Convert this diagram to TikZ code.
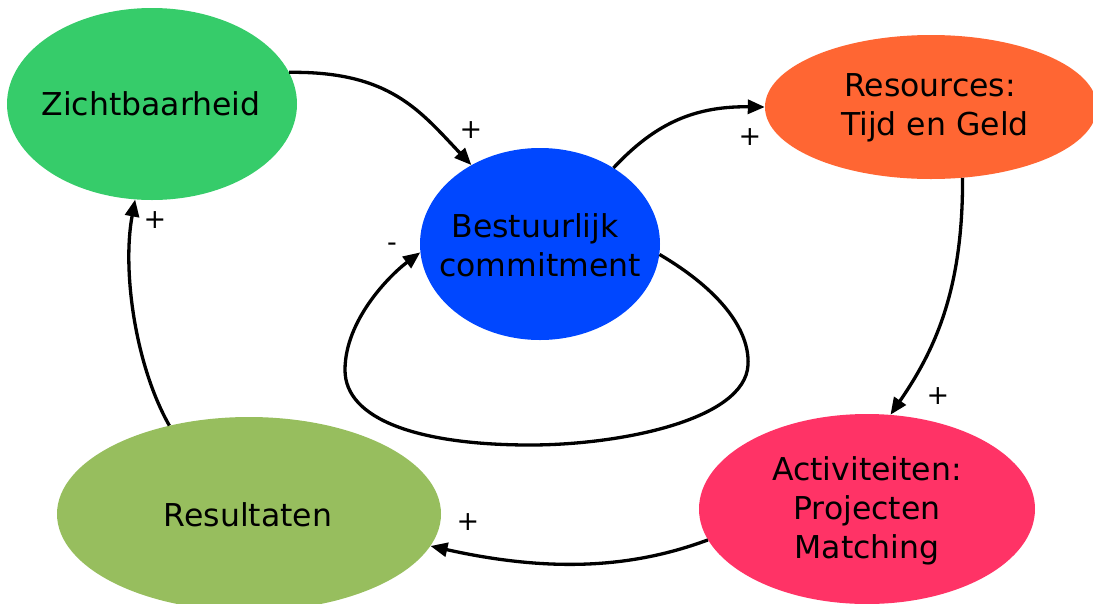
\documentclass[tikz,border=0pt]{standalone}
\usepackage{fontspec}
\setmainfont{DejaVu Sans}
\usetikzlibrary{shapes.geometric,arrows.meta}
\definecolor{cgreen}{HTML}{36CC6A}
\definecolor{cblue}{HTML}{0047FF}
\definecolor{corange}{HTML}{FF6633}
\definecolor{cpink}{HTML}{FF3366}
\definecolor{colive}{HTML}{97BE5E}
\tikzset{
  blob/.style={ellipse, draw=none, inner sep=0pt},
  lbl/.style={align=center, inner sep=0pt, font=\fontsize{31.5}{39}\selectfont},
  sign/.style={inner sep=0pt, font=\fontsize{27}{27}\selectfont},
  link/.style={line width=3.3pt, -{Triangle[length=17pt,width=14pt]}},
}
\begin{document}
\begin{tikzpicture}[x=1pt,y=-1pt]
\useasboundingbox (0,0) rectangle (1093,603);
\clip (0,0) rectangle (1093,603);
% ellipses
\node[blob, fill=cgreen, minimum width=290pt, minimum height=192pt] (z) at (152,104) {};
\node[blob, fill=cblue, minimum width=240pt, minimum height=192pt] (b) at (540,244) {};
\node[blob, fill=corange, minimum width=332pt, minimum height=144pt] (r) at (931,107) {};
\node[blob, fill=cpink, minimum width=336pt, minimum height=190pt] (a) at (867,509) {};
\node[blob, fill=colive, minimum width=384pt, minimum height=194pt] (s) at (249,514) {};
% texts
\node[lbl] (zt) at (151,104) {Zichtbaarheid};
\node[lbl] (bt) at (540,245) {Bestuurlijk\hspace{10pt} \\ commitment};
\node[lbl] (rt) at (930,108) {Resources:\\ \hspace{10pt}Tijd en Geld};
\node[lbl] (at) at (867,511) {Activiteiten:\\Projecten\\Matching};
\node[lbl] (st) at (248,515) {Resultaten};
% connectors
\draw[link] (z.13) .. controls (390,71) and (420,111) .. (b.131);
\draw[link] (b.46) .. controls (652,127) and (690,106) .. (r.west);
\draw[link] (r.-66) .. controls (963,290) and (935,350) .. (a.76);
\draw[link] (a.191) .. controls (640,565) and (560,575) .. (s.350);
\draw[link] (s.132) .. controls (135,365) and (122,270) .. (z.260);
\draw[link] (b.355) .. controls (720,290) and (750,330) .. (748,365)
   .. controls (745,420) and (620,445) .. (530,445)
   .. controls (420,445) and (345,420) .. (345,370)
   .. controls (345,320) and (390,275) .. (b.184);
% signs
\node[sign] (p1) at (471,130) {+};
\node[sign] (p2) at (750,137) {+};
\node[sign] (p3) at (938,396) {+};
\node[sign] (p4) at (468,522) {+};
\node[sign] (p5) at (155,220) {+};
\node[sign] (m1) at (392,247) {-};
\end{tikzpicture}
\end{document}
